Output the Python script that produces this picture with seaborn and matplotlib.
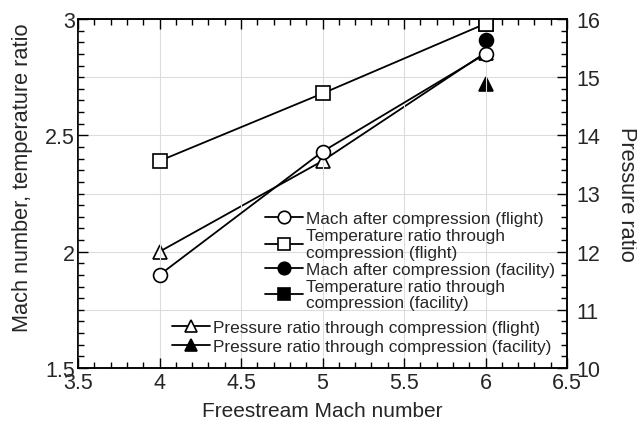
import numpy as np
import pandas as pd
import matplotlib
matplotlib.use("Agg")
import matplotlib.pyplot as plt
import seaborn as sns
from matplotlib.ticker import MultipleLocator, FormatStrFormatter

# ---- data ----
freestream = [4, 5, 6]
mach_flight = [1.90, 2.43, 2.85]
temp_flight = [2.39, 2.68, 2.98]
press_flight = [12.0, 13.56, 15.42]
facility_x = [6]
mach_facility = [2.91]
temp_facility = [2.98]
press_facility = [14.88]

lab_mach_f = "Mach after compression (flight)"
lab_temp_f = "Temperature ratio through\ncompression (flight)"
lab_mach_fac = "Mach after compression (facility)"
lab_temp_fac = "Temperature ratio through\ncompression (facility)"
lab_press_f = "Pressure ratio through compression (flight)"
lab_press_fac = "Pressure ratio through compression (facility)"

sns.set_theme(style="white")
plt.rcParams["font.family"] = ["Liberation Sans", "DejaVu Sans"]

fig = plt.figure(figsize=(6.37, 4.27), dpi=100)
ax = fig.add_axes([78/637, 1-369/427, (567-78)/637, (369-20)/427])
ax2 = ax.twinx()
ax.set_zorder(ax2.get_zorder() + 1)
ax.patch.set_visible(False)

common = dict(color="black", linewidth=1.3, markersize=10, markeredgewidth=1.2,
              markeredgecolor="black", legend=False, sort=True)

sns.lineplot(x=facility_x, y=temp_facility, marker="s", markerfacecolor="black", ax=ax, **common)
sns.lineplot(x=freestream, y=mach_flight, marker="o", markerfacecolor="white", ax=ax, **common)
sns.lineplot(x=freestream, y=temp_flight, marker="s", markerfacecolor="white", ax=ax, **common)
sns.lineplot(x=facility_x, y=mach_facility, marker="o", markerfacecolor="black", ax=ax, **common)
sns.lineplot(x=freestream, y=press_flight, marker="^", markerfacecolor="white", ax=ax2, **common)
sns.lineplot(x=facility_x, y=press_facility, marker="^", markerfacecolor="black", ax=ax2, **common)

ax.set_xlim(3.5, 6.5)
ax.set_ylim(1.5, 3.0)
ax2.set_ylim(10, 16)

ax.xaxis.set_major_locator(MultipleLocator(0.5))
ax.xaxis.set_minor_locator(MultipleLocator(0.1))
ax.yaxis.set_major_locator(MultipleLocator(0.5))
ax.yaxis.set_minor_locator(MultipleLocator(0.05))
ax2.yaxis.set_major_locator(MultipleLocator(1))
ax2.yaxis.set_minor_locator(MultipleLocator(0.2))
ax.xaxis.set_major_formatter(FormatStrFormatter("%g"))
ax.yaxis.set_major_formatter(FormatStrFormatter("%g"))
ax2.yaxis.set_major_formatter(FormatStrFormatter("%g"))

ax.tick_params(axis="x", which="both", direction="in", top=True, bottom=True, labelsize=15.5, pad=3, color="black")
ax.tick_params(axis="y", which="both", direction="in", left=True, right=False, labelsize=15.5, pad=2, color="black")
ax2.tick_params(axis="y", which="both", direction="in", right=True, left=False, labelsize=15.5, pad=7, color="black")
for a in (ax, ax2):
    a.tick_params(which="major", length=7, width=1)
    a.tick_params(which="minor", length=4.5, width=1)
    for s in a.spines.values():
        s.set_color("black")
        s.set_linewidth(1.1)

ax.grid(axis="x", which="major", color="#dcdcdc", linewidth=0.8)
ax2.grid(axis="y", which="major", color="#dcdcdc", linewidth=0.8)
ax.grid(axis="y", visible=False)
ax2.grid(axis="x", visible=False)

ax.set_xlabel("Freestream Mach number", fontsize=15, labelpad=6)
ax.set_ylabel("Mach number, temperature ratio", fontsize=15.7)
ax.yaxis.set_label_coords(-0.092, 0.547)
ax2.set_ylabel("Pressure ratio", fontsize=15.7, rotation=270, labelpad=26)

lines1 = ax.get_lines()
lines2 = ax2.get_lines()
h_temp_fac, h_mach_f, h_temp_f, h_mach_fac = lines1[0], lines1[1], lines1[2], lines1[3]
h_press_f, h_press_fac = lines2[0], lines2[1]

leg_kw = dict(frameon=False, fontsize=12.4, handlelength=2.2, handletextpad=0.2,
              borderpad=0, borderaxespad=0)
leg1 = ax.legend([h_mach_f, h_temp_f, h_mach_fac, h_temp_fac],
                 [lab_mach_f, lab_temp_f, lab_mach_fac, lab_temp_fac],
                 loc="upper left", bbox_to_anchor=((265-78)/489, 1-(212-20)/349),
                 markerscale=0.9, labelspacing=0.12, **leg_kw)
for t in leg1.get_texts():
    t.set_linespacing(1.12)
ax.add_artist(leg1)
leg2 = ax.legend([h_press_f, h_press_fac], [lab_press_f, lab_press_fac],
                 loc="upper left", bbox_to_anchor=((172-78)/489, 1-(321-20)/349),
                 markerscale=0.9, labelspacing=0.25, **leg_kw)

fig.savefig("out.png", dpi=100)
